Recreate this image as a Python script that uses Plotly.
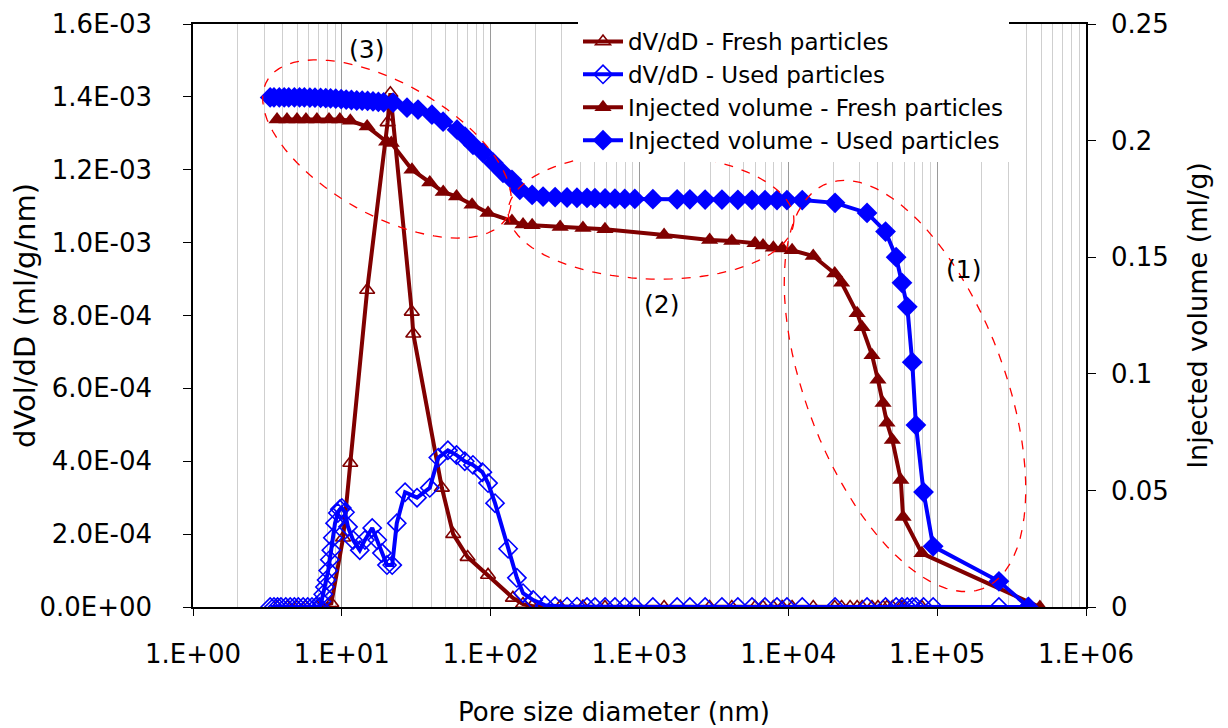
import numpy as np
import plotly.graph_objects as go

# pore size diameter (nm) / values
d_dv_fresh = [3.67, 4.3, 5.0, 5.7, 6.8, 8.5, 10.2, 11.4, 14.8, 20.3, 21.2, 29.5, 30.2, 47, 56, 70, 96, 141,
              165, 190, 293, 417, 586, 1463, 2960, 4170, 5970, 6760, 7930, 9100, 10600, 14700, 20500,
              22800, 26000, 29000, 31300, 36500, 40000, 43300, 46000, 50000, 57000, 59000, 79000, 410000]
dv_fresh = [0, 0, 0, 0, 0, 1.0e-5, 1.9e-4, 3.95e-4, 8.7e-4, 1.33e-3, 1.41e-3, 8.1e-4, 7.5e-4, 3.27e-4,
            2.0e-4, 1.37e-4, 8.8e-5, 2.5e-5, 8e-6, 3e-6, 1e-6, 1e-6, 0, 0, 0, 0, 0, 0, 0, 0, 0, 0, 0,
            0, 0, 0, 0, 0, 0, 0, 0, 0, 0, 0, 0, 0]

d_dv_used = [3.3, 3.5, 3.7, 3.9, 4.2, 4.5, 4.8, 5.1, 5.5, 5.9, 6.3, 6.7, 7.1, 7.3, 7.5, 7.7, 7.9, 8.1,
             8.3, 8.5, 8.7, 9.0, 9.4, 9.7, 10.0, 10.5, 11.0, 11.9, 13.2, 14.3, 16.0, 17.3, 18.6, 20.1,
             21.8, 23.4, 26.6, 32, 39, 44.5, 51.6, 59, 67, 76, 88, 96, 107, 131, 150, 165, 193, 231,
             271, 326, 380, 444, 502, 587, 684, 796, 930, 1230, 1790, 2180, 2760, 3580, 4580, 5700,
             6970, 8390, 9790, 12400, 20600, 33800, 45000, 53000, 58000, 63000, 68000, 72000, 81000,
             94000, 260000, 410000]
dv_used = [0, 0, 0, 0, 0, 0, 0, 0, 0, 0, 0, 0, 0, 1.5e-5, 3.5e-5, 5.5e-5, 7.4e-5, 1.0e-4, 1.3e-4,
           1.56e-4, 1.9e-4, 2.3e-4, 2.58e-4, 2.68e-4, 2.72e-4, 2.6e-4, 2.2e-4, 1.84e-4, 1.56e-4, 1.84e-4,
           2.17e-4, 1.84e-4, 1.48e-4, 1.15e-4, 1.15e-4, 2.3e-4, 3.15e-4, 3.0e-4, 3.27e-4, 4.1e-4, 4.3e-4,
           4.17e-4, 4.0e-4, 3.9e-4, 3.7e-4, 3.4e-4, 2.85e-4, 1.6e-4, 8e-5, 3.8e-5, 1.9e-5, 5e-6, 2e-6,
           1e-6, 1e-6, 0, 0, 0, 0, 0, 0, 0, 0, 0, 0, 0, 0, 0, 0, 0, 0, 0, 0, 0, 0, 0, 0, 0, 0, 0, 0, 0,
           0, 0]

d_inj_fresh = [3.67, 4.28, 5.0, 5.74, 6.8, 8.2, 9.7, 11.4, 14.8, 20.0, 21.5, 29.6, 39, 48, 59, 75, 96,
               139, 165, 190, 293, 417, 586, 1463, 2960, 4170, 5970, 6760, 7930, 9100, 10600, 14700,
               20500, 22800, 29000, 31300, 36500, 40000, 43300, 46000, 50000, 57000, 59000, 79000, 490000]
inj_fresh = [0.209, 0.209, 0.209, 0.209, 0.209, 0.209, 0.209, 0.2085, 0.206, 0.1995, 0.199, 0.1875,
             0.182, 0.178, 0.176, 0.1725, 0.169, 0.1655, 0.164, 0.1637, 0.163, 0.1625, 0.162, 0.1595,
             0.1574, 0.157, 0.156, 0.155, 0.154, 0.1537, 0.153, 0.1505, 0.143, 0.139, 0.126, 0.120,
             0.108, 0.0974, 0.0875, 0.079, 0.0716, 0.0545, 0.0386, 0.023, 0]

d_inj_used = [3.3, 3.5, 3.8, 4.1, 4.4, 4.8, 5.2, 5.6, 6.1, 6.6, 7.2, 7.8, 8.4, 9.1, 9.9, 10.7, 11.6,
              12.6, 13.7, 14.9, 16.2, 17.6, 19.1, 22.1, 27.4, 32.5, 40.3, 47.9, 59.4, 67.3, 76.1, 88.8,
              104, 121, 139, 157, 190, 225, 271, 326, 380, 444, 502, 587, 684, 796, 930, 1230, 1790,
              2180, 2760, 3580, 4580, 5700, 6970, 8390, 9790, 12400, 20600, 33800, 45000, 53000,
              58000, 63000, 68000, 72000, 81000, 94000, 260000, 410000]
inj_used = [0.2185, 0.2185, 0.2185, 0.2185, 0.2185, 0.2185, 0.2185, 0.2185, 0.2184, 0.2184, 0.2183,
            0.2182, 0.2181, 0.218, 0.2178, 0.2176, 0.2174, 0.2172, 0.2171, 0.217, 0.2168, 0.2166,
            0.2164, 0.2163, 0.2141, 0.2133, 0.2111, 0.2081, 0.2047, 0.2017, 0.1982, 0.1948, 0.1905,
            0.1862, 0.1832, 0.1789, 0.1767, 0.176, 0.1758, 0.1756, 0.1755, 0.1754, 0.1753, 0.1752,
            0.1751, 0.175, 0.175, 0.1749, 0.1748, 0.1748, 0.1747, 0.1747, 0.1746, 0.1746, 0.1745,
            0.1745, 0.1745, 0.1745, 0.1733, 0.169, 0.161, 0.150, 0.139, 0.1287, 0.105, 0.078, 0.0493,
            0.026, 0.011, 0]

x_tickvals = [1, 10, 100, 1000, 1e4, 1e5, 1e6]
x_ticktext = ["1.E+00", "1.E+01", "1.E+02", "1.E+03", "1.E+04", "1.E+05", "1.E+06"]
y_tickvals = [0, 2e-4, 4e-4, 6e-4, 8e-4, 1e-3, 1.2e-3, 1.4e-3, 1.6e-3]
y_ticktext = ["0.0E+00", "2.0E-04", "4.0E-04", "6.0E-04", "8.0E-04",
              "1.0E-03", "1.2E-03", "1.4E-03", "1.6E-03"]
y2_tickvals = [0, 0.05, 0.1, 0.15, 0.2, 0.25]
y2_ticktext = ["0", "0.05", "0.1", "0.15", "0.2", "0.25"]

RED = "#800000"
BLUE = "#0000FF"
FONT = "DejaVu Sans, Verdana, sans-serif"

# plot area as seen on screen (page has an 8px body margin)
L, R, T, B = 193, 1086, 24, 607
OFF = 8
W, H = 1228, 728


def ellipse_path(cx, cy, a, b, deg):
    t = np.linspace(0, 2 * np.pi, 90)
    th = np.radians(deg)
    px = cx + a * np.cos(t) * np.cos(th) - b * np.sin(t) * np.sin(th)
    py = cy + a * np.cos(t) * np.sin(th) + b * np.sin(t) * np.cos(th)
    xs = (px - L) / (R - L)
    ys = (B - py) / (B - T)
    pts = [f"{x:.4f},{y:.4f}" for x, y in zip(xs, ys)]
    return "M" + " L".join(pts) + " Z"


fig = go.Figure()
fig.add_trace(go.Scatter(
    x=d_dv_fresh, y=dv_fresh, name="dV/dD - Fresh particles", mode="lines+markers",
    line=dict(color=RED, width=4),
    marker=dict(symbol="triangle-up-open", size=13, color=RED, line=dict(width=1.6)),
))
fig.add_trace(go.Scatter(
    x=d_dv_used, y=dv_used, name="dV/dD - Used particles", mode="lines+markers",
    line=dict(color=BLUE, width=4),
    marker=dict(symbol="diamond-open", size=14, color=BLUE, line=dict(width=1.6)),
))
fig.add_trace(go.Scatter(
    x=d_inj_fresh, y=inj_fresh, name="Injected volume - Fresh particles", mode="lines+markers",
    yaxis="y2", line=dict(color=RED, width=4),
    marker=dict(symbol="triangle-up", size=15, color=RED),
))
fig.add_trace(go.Scatter(
    x=d_inj_used, y=inj_used, name="Injected volume - Used particles", mode="lines+markers",
    yaxis="y2", line=dict(color=BLUE, width=4),
    marker=dict(symbol="diamond", size=16, color=BLUE),
))

ellipses = [(387, 149, 138, 66, 29.6), (651, 216, 143, 63, 2), (905, 386, 217, 99, 69)]
for e in ellipses:
    fig.add_shape(type="path", path=ellipse_path(*e), xref="paper", yref="paper",
                  line=dict(color="#FF0000", width=1.3, dash="dash"))

labels = [("(3)", 1.169, 1.523e-3), ("(2)", 3.145, 8.23e-4), ("(1)", 5.174, 9.19e-4)]
for txt, lx, ly in labels:
    fig.add_annotation(x=lx, y=ly, text=txt, showarrow=False, xref="x", yref="y", yshift=3,
                       font=dict(size=25, color="black", family=FONT))

# x title sits a little left of the plot centre in the original
fig.add_annotation(x=(614 - L) / (R - L), y=(B - 712) / (B - T), xref="paper", yref="paper",
                   text="Pore size diameter (nm)", showarrow=False, yanchor="middle",
                   font=dict(size=26, color="black", family=FONT))

minor_vals = [m * 10 ** k for k in range(6) for m in range(2, 10)]

fig.update_layout(
    width=W, height=H,
    margin=dict(l=L - OFF, r=W - R + OFF, t=T - OFF, b=H - B + OFF),
    paper_bgcolor="white", plot_bgcolor="white",
    font=dict(family=FONT, size=24, color="black"),
    showlegend=True,
    legend=dict(x=(578 - L) / (R - L), y=(B - 20) / (B - T), xanchor="left", yanchor="top",
                bgcolor="white", font=dict(size=23), itemwidth=40, tracegroupgap=0),
    xaxis=dict(
        type="log", range=[0, 6], tickmode="array", tickvals=x_tickvals, ticktext=x_ticktext,
        ticks="outside", ticklen=7, tickcolor="black", showline=True, linecolor="black",
        linewidth=1.5, mirror=True, showgrid=True, gridcolor="#9A9A9A", gridwidth=1,
        zeroline=False, tickfont=dict(size=26), ticklabelstandoff=16, automargin=False,
        minor=dict(tickmode="array", tickvals=minor_vals, showgrid=True, gridcolor="#CFCFCF",
                   gridwidth=1, ticks=""),
    ),
    yaxis=dict(
        range=[0, 1.6e-3], tickmode="array", tickvals=y_tickvals, ticktext=y_ticktext,
        ticks="outside", ticklen=8, tickcolor="black", showline=True, linecolor="black",
        linewidth=1.5, showgrid=False, zeroline=False, tickfont=dict(size=26),
        ticklabelstandoff=26, automargin=False,
        title=dict(text="dVol/dD (ml/g/nm)", font=dict(size=29), standoff=6),
    ),
    yaxis2=dict(
        overlaying="y", side="right", range=[0, 0.25], tickmode="array",
        tickvals=y2_tickvals, ticktext=y2_ticktext,
        ticks="outside", ticklen=8, tickcolor="black", showline=True, linecolor="black",
        linewidth=1.5, showgrid=False, zeroline=False, tickfont=dict(size=26),
        ticklabelstandoff=10, automargin=False,
        title=dict(text="Injected volume (ml/g)", font=dict(size=27), standoff=20),
    ),
)

fig.write_html("out.html")
